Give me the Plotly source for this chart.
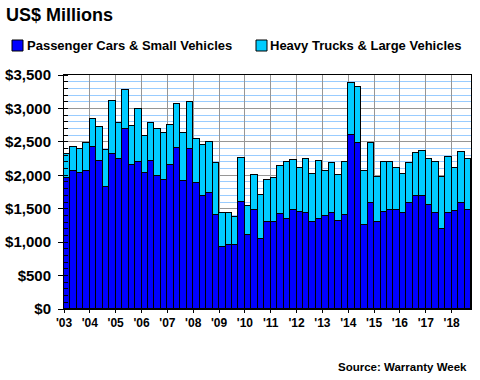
import plotly.graph_objects as go

years = list(range(2003, 2019))
year_labels = ["'03", "'04", "'05", "'06", "'07", "'08", "'09", "'10",
               "'11", "'12", "'13", "'14", "'15", "'16", "'17", "'18"]
quarters = [(y, q) for y in years for q in range(1, 5)][:63]

passenger = [1964, 2068, 2034, 2068, 2427, 2218, 1829, 2318, 2248, 2697, 2158, 2198,
             2034, 2218, 1989, 1934, 2158, 2408, 1919, 2398, 1889, 1694, 1739, 1410,
             927, 962, 962, 1600, 1111, 1481, 1051, 1301, 1301, 1421, 1346, 1481,
             1451, 1436, 1301, 1346, 1391, 1436, 1316, 1406, 2602, 2483, 1256, 1585,
             1301, 1451, 1481, 1481, 1436, 1585, 1690, 1690, 1555, 1436, 1196, 1436,
             1466, 1585, 1481]
heavy = [354, 355, 359, 419, 414, 504, 554, 793, 534, 578, 579, 793,
         553, 568, 703, 698, 594, 663, 713, 698, 654, 759, 759, 774,
         503, 468, 414, 653, 434, 523, 654, 628, 658, 718, 852, 747,
         658, 807, 718, 867, 673, 748, 688, 792, 778, 837, 808, 898,
         678, 747, 717, 628, 583, 599, 643, 673, 688, 762, 783, 837,
         643, 763, 762]
series_names = ["Passenger Cars & Small Vehicles", "Heavy Trucks & Large Vehicles"]
series_colors = ["#0000FF", "#00CCFF"]

x = [(y - years[0]) * 4 + q - 0.5 for (y, q) in quarters]
tickvals = [(y - years[0]) * 4 for y in years]

font = "Liberation Sans, Arial, sans-serif"
W, H = 480, 380
L, R, T, B = 64, 9, 75, 71
PW, PH = W - L - R, H - T - B


def px(xp):
    return (xp - L) / PW


def py(yp):
    return (H - B - yp) / PH


fig = go.Figure()
for vals, name, col in zip([passenger, heavy], series_names, series_colors):
    fig.add_trace(go.Bar(x=x, y=vals, name=name,
                         marker=dict(color=col, line=dict(color="black", width=1)),
                         width=1, showlegend=False, hoverinfo="skip"))

annotations = [
    dict(text="<b>US$ Millions</b>", x=px(4), y=py(15), xanchor="left", yanchor="middle",
         font=dict(size=18)),
    dict(text="<b>Source: Warranty Week</b>", x=px(469), y=py(367), xanchor="right",
         yanchor="middle", font=dict(size=11.5)),
]
shapes = []
legend_pos = [(12, 25), (256, 268)]
for (sx, tx), name, col in zip(legend_pos, series_names, series_colors):
    shapes.append(dict(type="rect", xref="paper", yref="paper",
                       x0=px(sx), x1=px(sx + 11), y0=py(40), y1=py(51),
                       fillcolor=col, line=dict(color="black", width=1)))
    annotations.append(dict(text="<b>%s</b>" % name.replace("&", "&amp;"),
                            x=px(tx), y=py(45.5), xanchor="left", yanchor="middle",
                            font=dict(size=13)))
for a in annotations:
    a.update(xref="paper", yref="paper", showarrow=False)

fig.update_layout(
    width=W, height=H,
    barmode="stack", bargap=0,
    paper_bgcolor="white", plot_bgcolor="white",
    margin=dict(l=L, r=R, t=T, b=B, autoexpand=False),
    font=dict(family=font, color="black"),
    showlegend=False,
    annotations=annotations,
    shapes=shapes,
)

fig.update_xaxes(
    range=[0, 63], tickvals=tickvals, ticktext=year_labels,
    ticks="outside", ticklen=3, tickcolor="black",
    showline=True, linecolor="black", linewidth=1, mirror=True,
    showgrid=True, gridcolor="#969696", gridwidth=1,
    tickfont=dict(size=12, weight="bold"),
    zeroline=False,
)
fig.update_yaxes(
    range=[0, 3500], dtick=500, tick0=0, tickprefix="$", tickformat=",",
    ticks="outside", ticklen=5, tickcolor="black",
    showline=True, linecolor="black", linewidth=1, mirror=True,
    showgrid=True, gridcolor="#969696", gridwidth=1,
    minor=dict(dtick=100, ticks="inside", ticklen=4, tickcolor="black",
               showgrid=True, gridcolor="#99CCFF", gridwidth=1),
    tickfont=dict(size=15, weight="bold"),
    ticklabelstandoff=4,
    zeroline=False,
)

fig.write_html("out.html", config={"displayModeBar": False},
               post_script="document.body.style.margin='0';")
